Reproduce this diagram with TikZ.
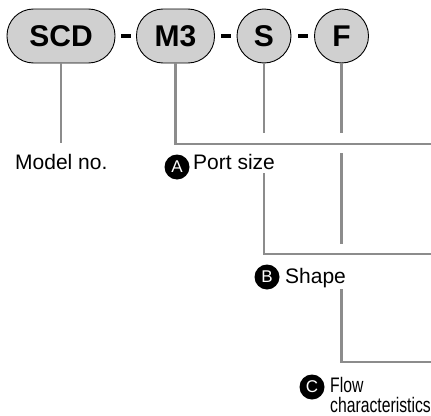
\documentclass[tikz,border=0pt]{standalone}
\usepackage{fontspec}
\setmainfont{Liberation Sans}
\definecolor{pillfill}{HTML}{D0D0D0}
\definecolor{leader}{HTML}{8C8C8C}
\begin{document}
\begin{tikzpicture}[x=1pt,y=-1pt,
  codepill/.style={draw=black,line width=0.9pt,fill=pillfill,rounded corners=26.5pt,
    minimum height=54pt,inner sep=0pt,font=\fontsize{30}{30}\selectfont\bfseries},
  codedisc/.style={draw=black,line width=0.9pt,fill=pillfill,circle,minimum size=54pt,
    inner sep=0pt,font=\fontsize{30}{30}\selectfont\bfseries},
  dashmark/.style={fill=black,minimum width=10pt,minimum height=4pt,inner sep=0pt},
  leaderline/.style={draw=leader,line width=2.2pt},
  caption/.style={inner sep=0pt,anchor=base west,font=\fontsize{21}{25}\selectfont},
  badge/.style={circle,fill=black,text=white,minimum size=25pt,inner sep=0pt,
    font=\fontsize{17}{17}\selectfont}]
\useasboundingbox (0,0) rectangle (431,415);

% model code: SCD - M3 - S - F
\node[codepill,minimum width=108pt] (scd) at (61,36) {SCD};
\node[dashmark] (d1) at (126,36) {};
\node[codepill,minimum width=78pt] (m3) at (175.5,36) {M3};
\node[dashmark] (d2) at (225.5,36) {};
\node[codedisc] (s) at (264,36) {S};
\node[dashmark] (d3) at (302.5,36) {};
\node[codedisc] (f) at (341.5,36) {F};

% captions
\node[caption] (modeltxt) at (15,169) {Model no.};
\node[badge] (ba) at (177,167) {A};
\node[caption] (porttxt) at (193,169) {Port size};
\node[badge] (bb) at (267,277) {B};
\node[caption] (shapetxt) at (285,283) {Shape};
\node[badge] (bc) at (312,387) {C};
\node[caption] (flowtxt) at (330,392) {\scalebox{0.75}[1]{Flow}};
\node[caption] (chartxt) at (330,412) {\scalebox{0.75}[1]{characteristics}};

% leader line ends and bends
\coordinate (scdend) at (61,143);
\coordinate (edgeA) at (431,144);
\coordinate (sstop) at (264,133);
\coordinate (fstop) at (341.5,133);
\coordinate (fresume) at (341.5,153);
\coordinate (fend) at (341.5,244);
\coordinate (portstart) at (264,173);
\coordinate (edgeB) at (431,254);
\coordinate (shapestart) at (341.5,289);
\coordinate (edgeC) at (431,362);

\draw[leaderline] (scd.south) -- (scdend);
\draw[leaderline] (m3.south) |- (edgeA);
\draw[leaderline] (s.south) -- (sstop);
\draw[leaderline] (f.south) -- (fstop);
\draw[leaderline] (fresume) -- (fend);
\draw[leaderline] (portstart) |- (edgeB);
\draw[leaderline] (shapestart) |- (edgeC);
\end{tikzpicture}
\end{document}
